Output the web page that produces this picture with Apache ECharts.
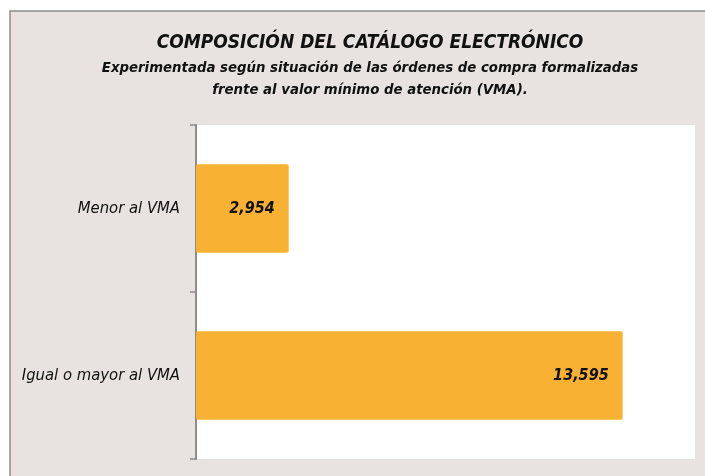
<!DOCTYPE html>
<html>
<head>
<meta charset="utf-8">
<script src="https://cdn.jsdelivr.net/npm/echarts@6/dist/echarts.min.js"></script>
<style>
  html, body { margin: 0; padding: 0; background: #ffffff; }
  #chart { width: 705px; height: 476px; }
</style>
</head>
<body>
<div id="chart"></div>
<script>
const categories = ['Menor al VMA', 'Igual o mayor al VMA'];
const values = [2954, 13595];
const axisMax = 15900;

const FONT = "'Liberation Sans Narrow', 'DejaVu Sans Condensed', 'Noto Sans', sans-serif";

const chart = echarts.init(document.getElementById('chart'), null, { renderer: 'canvas' });

const option = {
  backgroundColor: '#ffffff',
  animation: false,
  graphic: [{
    type: 'rect',
    z: -10,
    shape: { x: 10, y: 11, width: 720, height: 490 },
    style: { fill: '#e8e3e1', stroke: '#8c8c8c', lineWidth: 1.5 }
  }],
  title: {
    text: 'COMPOSICIÓN DEL CATÁLOGO ELECTRÓNICO',
    subtext: 'Experimentada según situación de las órdenes de compra formalizadas\nfrente al valor mínimo de atención (VMA).',
    left: 365,
    textAlign: 'center',
    top: 29,
    itemGap: 4,
    textStyle: {
      fontFamily: FONT, fontStyle: 'italic', fontWeight: 'bold',
      fontSize: 19, color: '#111111'
    },
    subtextStyle: {
      fontFamily: FONT, fontStyle: 'italic', fontWeight: 'bold',
      fontSize: 14.8, color: '#111111', lineHeight: 22
    }
  },
  grid: {
    left: 196, right: 10, top: 125, bottom: 17,
    show: true, backgroundColor: '#ffffff', borderWidth: 0
  },
  xAxis: {
    type: 'value',
    min: 0,
    max: axisMax,
    show: false
  },
  yAxis: {
    type: 'category',
    data: categories,
    inverse: true,
    axisLine: { show: true, lineStyle: { color: '#8c8c8c', width: 2 } },
    axisTick: { show: true, length: 6, lineStyle: { color: '#8c8c8c', width: 1.5 } },
    axisLabel: {
      margin: 16,
      fontFamily: FONT, fontStyle: 'italic', fontSize: 16.5, color: '#111111'
    }
  },
  series: [{
    type: 'bar',
    data: values,
    barWidth: '53%',
    itemStyle: { color: '#f8b133', borderRadius: 2 },
    label: {
      show: true,
      position: 'insideRight',
      distance: 14,
      formatter: p => p.value.toLocaleString('en-US'),
      fontFamily: FONT, fontStyle: 'italic', fontWeight: 'bold',
      fontSize: 16, color: '#111111'
    }
  }]
};

chart.setOption(option);
</script>
</body>
</html>
